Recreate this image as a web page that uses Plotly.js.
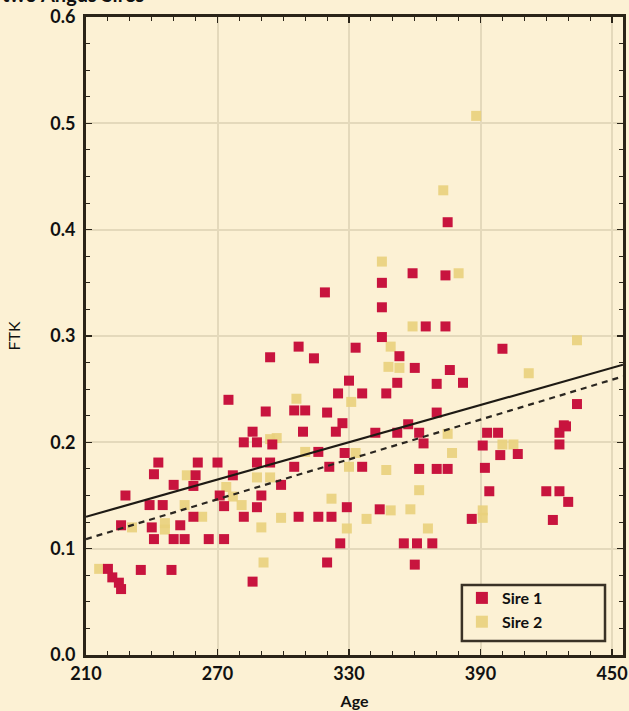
<!DOCTYPE html>
<html>
<head>
<meta charset="utf-8">
<script src="https://cdn.plot.ly/plotly-3.0.1.min.js"></script>
<style>
  html, body { margin: 0; padding: 0; background: #fcf1d4; }
  #chart { width: 629px; height: 711px; }
</style>
</head>
<body>
<div id="chart"></div>
<script>
// ---- Data ----
const sire1Age = [
  319, 307, 294, 314, 333, 330, 325, 275, 292, 305, 310, 320, 327, 286, 309, 324,
  282, 288, 295, 316, 328, 243, 241, 261, 270, 288, 294, 260, 277, 305, 321, 250,
  259, 299, 228, 271, 290, 239, 245, 273, 288, 329, 259, 282, 307, 316, 322, 226,
  240, 253, 241, 250, 255, 266, 273, 326, 220, 222, 225, 226, 235, 249, 320, 286,
  375, 359, 374, 345, 345, 365, 374, 345, 353, 360, 376, 400, 352, 370, 382, 336,
  347, 434, 370, 357, 428, 342, 352, 362, 364, 336, 362, 370, 375, 393, 398, 391,
  399, 407, 392, 426, 429, 426, 394, 420, 426, 430, 344, 386, 423, 355, 361, 368,
  360
];
const sire1FTK = [
  0.341, 0.290, 0.280, 0.279, 0.289, 0.258, 0.246, 0.240, 0.229, 0.230, 0.230, 0.228, 0.218, 0.210, 0.210, 0.210,
  0.200, 0.200, 0.198, 0.191, 0.190, 0.181, 0.170, 0.181, 0.181, 0.181, 0.181, 0.169, 0.169, 0.177, 0.177, 0.160,
  0.159, 0.160, 0.150, 0.150, 0.150, 0.141, 0.141, 0.140, 0.139, 0.139, 0.130, 0.130, 0.130, 0.130, 0.130, 0.122,
  0.120, 0.122, 0.109, 0.109, 0.109, 0.109, 0.109, 0.105, 0.081, 0.073, 0.068, 0.062, 0.080, 0.080, 0.087, 0.069,
  0.407, 0.359, 0.357, 0.350, 0.327, 0.309, 0.309, 0.299, 0.281, 0.270, 0.268, 0.288, 0.256, 0.255, 0.256, 0.246,
  0.246, 0.236, 0.228, 0.217, 0.216, 0.209, 0.209, 0.209, 0.199, 0.177, 0.175, 0.175, 0.175, 0.209, 0.209, 0.197,
  0.188, 0.189, 0.176, 0.209, 0.215, 0.198, 0.154, 0.154, 0.154, 0.144, 0.137, 0.128, 0.127, 0.105, 0.105, 0.105,
  0.085
];
const sire2Age = [
  388, 373, 306, 331, 294, 297, 310, 333, 330, 256, 288, 294, 274, 277, 255, 322,
  281, 263, 246, 246, 299, 231, 290, 329, 216, 291,
  345, 380, 359, 349, 348, 353, 434, 412, 375, 377, 347, 400, 405, 362, 349, 358,
  338, 391, 391, 366
];
const sire2FTK = [
  0.507, 0.437, 0.241, 0.238, 0.203, 0.204, 0.191, 0.190, 0.177, 0.169, 0.167, 0.167, 0.158, 0.149, 0.141, 0.147,
  0.141, 0.130, 0.124, 0.118, 0.129, 0.120, 0.120, 0.119, 0.081, 0.087,
  0.370, 0.359, 0.309, 0.290, 0.271, 0.270, 0.296, 0.265, 0.208, 0.190, 0.174, 0.198, 0.198, 0.155, 0.136, 0.137,
  0.128, 0.136, 0.129, 0.119
];
// Regression lines (end points)
const fitAge = [210, 455];
const fit1FTK = [0.130, 0.273];
const fit2FTK = [0.109, 0.262];

const seriesNames = ["Sire 1", "Sire 2"];
const xTickVals = [210, 270, 330, 390, 450];
const xTickText = ["210", "270", "330", "390", "450"];
const yTickVals = [0.0, 0.1, 0.2, 0.3, 0.4, 0.5, 0.6];
const yTickText = ["0.0", "0.1", "0.2", "0.3", "0.4", "0.5", "0.6"];
const titleText = "two Angus Sires";
const xTitle = "Age";
const yTitle = "FTK";

// ---- Styling ----
const bg = "#fcf1d4";
const axisColor = "#2a2418";
const gridColor = "#e4d9bb";
const red = "#c8143e";
const yellow = "#e9d07c";
const fontFam = "Lato, 'Open Sans', 'DejaVu Sans', sans-serif";

const traces = [
  {
    x: sire2Age, y: sire2FTK, type: "scatter", mode: "markers", name: seriesNames[1],
    marker: { symbol: "square", size: 10, color: yellow, opacity: 0.9 },
    legendrank: 2
  },
  {
    x: sire1Age, y: sire1FTK, type: "scatter", mode: "markers", name: seriesNames[0],
    marker: { symbol: "square", size: 10, color: red },
    legendrank: 1
  },
  {
    x: fitAge, y: fit1FTK, type: "scatter", mode: "lines", showlegend: false,
    line: { color: "#1e1a14", width: 2.2 }, hoverinfo: "skip"
  },
  {
    x: fitAge, y: fit2FTK, type: "scatter", mode: "lines", showlegend: false,
    line: { color: "#2a2620", width: 2.2, dash: "6px,5px" }, hoverinfo: "skip"
  }
];

const layout = {
  width: 629, height: 711,
  paper_bgcolor: bg, plot_bgcolor: bg,
  margin: { l: 86, r: 6, t: 17, b: 56 },
  font: { family: fontFam, color: "#111" },
  showlegend: true,
  legend: {
    x: 0.70, y: 0.116, xanchor: "left", yanchor: "top",
    bgcolor: "rgba(0,0,0,0)", borderwidth: 0,
    font: { family: fontFam, size: 16, color: "#111", weight: "bold" },
    traceorder: "normal", itemsizing: "constant", tracegroupgap: 0
  },
  shapes: [
    {
      type: "rect", xref: "paper", yref: "paper",
      x0: 0.700, x1: 0.9665, y0: 0.022, y1: 0.1097,
      line: { color: "#3a3226", width: 2.5 }, fillcolor: bg, layer: "above"
    }
  ],
  xaxis: {
    range: [210, 455],
    tickvals: xTickVals, ticktext: xTickText,
    showgrid: true, gridcolor: gridColor, gridwidth: 2,
    zeroline: false,
    showline: true, linecolor: axisColor, linewidth: 3, mirror: "ticks",
    ticks: "inside", ticklen: 6, tickcolor: axisColor, tickwidth: 1.5,
    minor: { dtick: 10, ticks: "inside", ticklen: 4, tickcolor: axisColor, tickwidth: 1, showgrid: false },
    tickfont: { family: fontFam, size: 18, color: "#111", weight: "bold" },
    title: { text: xTitle, standoff: 14, font: { family: fontFam, size: 16, color: "#111", weight: "bold" } }
  },
  yaxis: {
    range: [0, 0.6],
    tickvals: yTickVals, ticktext: yTickText,
    showgrid: true, gridcolor: gridColor, gridwidth: 2,
    zeroline: false,
    showline: true, linecolor: axisColor, linewidth: 3, mirror: "ticks",
    ticks: "inside", ticklen: 6, tickcolor: axisColor, tickwidth: 1.5,
    minor: { dtick: 0.025, ticks: "inside", ticklen: 4, tickcolor: axisColor, tickwidth: 1, showgrid: false },
    tickfont: { family: fontFam, size: 18, color: "#111", weight: "bold" },
    ticklabelstandoff: 4,
    title: { text: yTitle, standoff: 26, font: { family: fontFam, size: 16, color: "#111" } }
  },
  annotations: [
    {
      text: titleText, xref: "paper", yref: "paper",
      x: -86 / 537, y: 1 + 23 / 638, xanchor: "left", yanchor: "middle",
      showarrow: false,
      font: { family: fontFam, size: 20, color: "#111", weight: "bold" }
    }
  ]
};

Plotly.newPlot("chart", traces, layout, { displayModeBar: false, staticPlot: true });
</script>
</body>
</html>
